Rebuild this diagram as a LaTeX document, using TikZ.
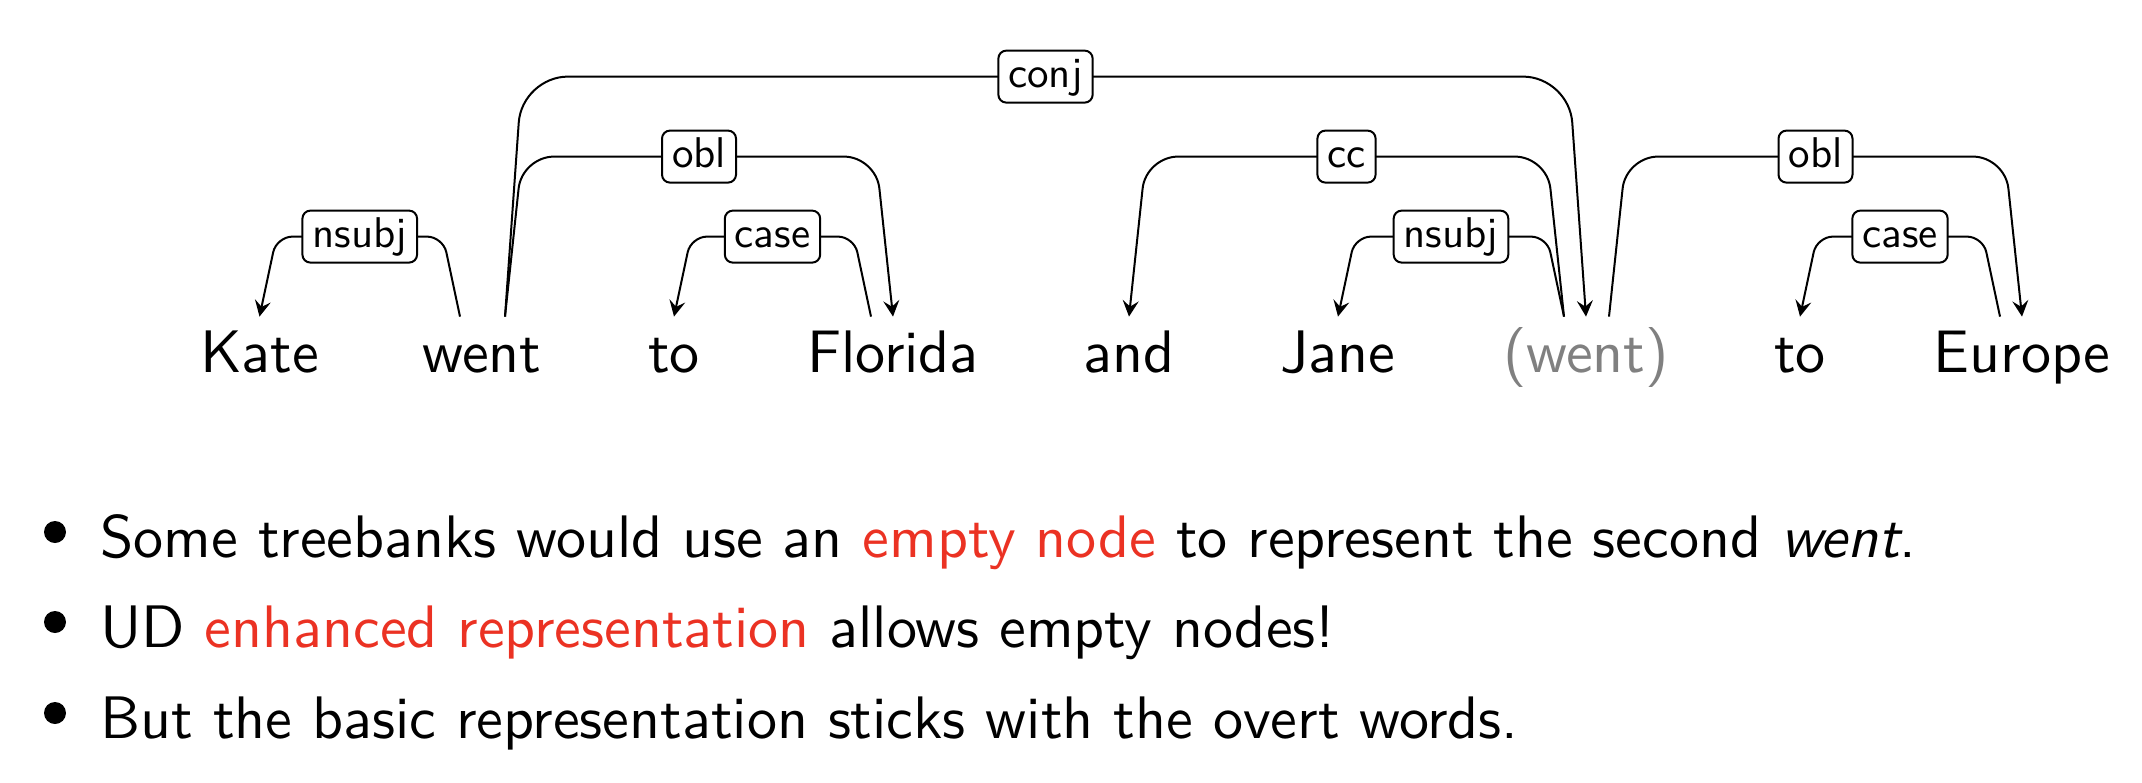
\documentclass[tikz,border=0pt]{standalone}
\usepackage{fontspec}
\setsansfont{lmsans10-regular.otf}[ItalicFont=lmsans10-oblique.otf,BoldFont=lmsans10-bold.otf]
\usetikzlibrary{arrows.meta,calc}
\definecolor{alertred}{RGB}{235,50,35}
\definecolor{wentgray}{RGB}{128,128,128}
\tikzset{
 word/.style={anchor=base, font=\sffamily\fontsize{30}{36}\selectfont, text height=22pt, text depth=6pt, inner xsep=0pt, inner ysep=5.5pt},
 deplabel/.style={draw, line width=1pt, rounded corners=4pt, fill=white, text=black, font=\sffamily\fontsize{21.5}{24}\selectfont, text height=15.5pt, text depth=4.5pt, inner xsep=5pt, inner ysep=3pt},
 depline/.style={line width=1pt, -{Stealth[length=8pt,width=8pt,inset=3pt]}},
 bullettext/.style={anchor=base west, font=\sffamily\fontsize{30}{36}\selectfont, inner sep=0pt},
 bulletdot/.style={circle, fill=black, inner sep=0pt, minimum size=11pt},
}
\newcommand\depedge[7]{%
 \draw[depline, rounded corners=#7] ([xshift=#2]#1.north) -- ++({(#6)*8.5pt},{#4*40pt})
   -- node[deplabel]{#5} ($(#3.north)+({0pt-(#6)*8.5pt},{#4*40pt})$) -- (#3.north);
}
\begin{document}
\begin{tikzpicture}[x=0.5pt,y=-0.5pt]
\useasboundingbox (0,0) rectangle (2142,782);
% words
\node[word] (kate) at (259.5,372) {Kate};
\node[word] (went) at (482,372) {went};
\node[word] (to1) at (674,372) {to};
\node[word] (florida) at (893,372) {Florida};
\node[word] (and) at (1129,372) {and};
\node[word] (jane) at (1338,372) {Jane};
\node[word, text=wentgray] (went2) at (1586,372) {(went)};
\node[word] (to2) at (1800,372) {to};
\node[word] (europe) at (2022,372) {Europe};
% edges
\depedge{went}{-11pt}{kate}{1}{nsubj}{-1}{8pt}
\depedge{went}{11.5pt}{florida}{2}{obl}{1}{16pt}
\depedge{went}{11.5pt}{went2}{3}{conj}{1}{23pt}
\depedge{florida}{-11pt}{to1}{1}{case}{-1}{8pt}
\depedge{went2}{-11pt}{and}{2}{cc}{-1}{16pt}
\depedge{went2}{-11pt}{jane}{1}{nsubj}{-1}{8pt}
\depedge{went2}{11.5pt}{europe}{2}{obl}{1}{16pt}
\depedge{europe}{-11pt}{to2}{1}{case}{-1}{8pt}
% bullets
\node[bulletdot] (b1) at (55,532) {};
\node[bulletdot] (b2) at (55,622) {};
\node[bulletdot] (b3) at (55,713) {};
\node[bullettext] (t1) at (100,557) {Some treebanks would use an \textcolor{alertred}{empty node} to represent the second \textit{went}.};
\node[bullettext] (t2) at (100,647) {UD \textcolor{alertred}{enhanced representation} allows empty nodes!};
\node[bullettext] (t3) at (100,738) {But the basic representation sticks with the overt words.};
\end{tikzpicture}
\end{document}
